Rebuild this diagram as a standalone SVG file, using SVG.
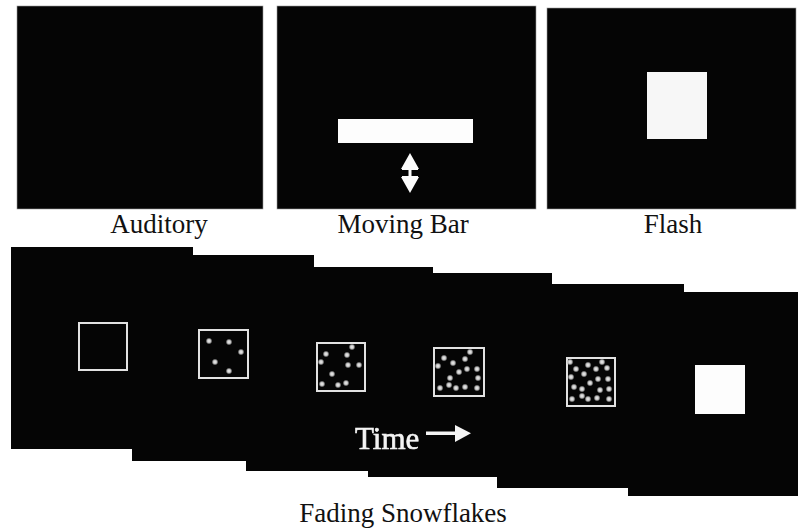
<svg xmlns="http://www.w3.org/2000/svg" width="798" height="529" viewBox="0 0 798 529">
  <style>
    .screen { fill: #050505; stroke: #9a9a9a; stroke-width: 0.6; }
    .frame { fill: #050505; }
    .label { font-family: "Liberation Serif", "Times New Roman", serif; font-size: 27px; fill: #111; text-anchor: middle; }
    .box { fill: none; stroke: #e2e2e2; stroke-width: 2; }
    .flake { fill: url(#flakeGlow); }
    .solid { fill: #fdfdfd; }
  </style>
  <defs>
    <radialGradient id="flakeGlow">
      <stop offset="0" stop-color="#f4f4f4" stop-opacity="1"/>
      <stop offset="0.55" stop-color="#cfcfcf" stop-opacity="0.9"/>
      <stop offset="1" stop-color="#888" stop-opacity="0"/>
    </radialGradient>
    <filter id="soft" x="-10%" y="-20%" width="120%" height="140%">
      <feGaussianBlur stdDeviation="0.5"/>
    </filter>
  </defs>

  <rect width="798" height="529" fill="#ffffff"/>

  <!-- Auditory condition: blank screen -->
  <g id="auditory">
    <rect class="screen" x="17" y="6" width="246" height="203"/>
    <text class="label" x="159" y="233">Auditory</text>
  </g>

  <!-- Moving bar condition -->
  <g id="moving-bar">
    <rect class="screen" x="277" y="6" width="259" height="203"/>
    <rect class="solid" x="338" y="119" width="135" height="24"/>
    <g fill="#fdfdfd">
      <polygon points="410,153 419,169 401,169"/>
      <rect x="408.5" y="169" width="3" height="9"/>
      <rect x="402" y="169" width="16" height="1"/>
      <rect x="402" y="176" width="16" height="1"/>
      <polygon points="401,177 419,177 410,193"/>
    </g>
    <text class="label" x="403" y="233">Moving Bar</text>
  </g>

  <!-- Flash condition -->
  <g id="flash">
    <rect class="screen" x="547" y="8" width="249" height="201"/>
    <rect x="647" y="72" width="60" height="67" fill="#f7f7f7"/>
    <text class="label" x="673" y="233">Flash</text>
  </g>

  <!-- Fading snowflakes: staggered frames, later frames drawn first so each earlier one sits on top -->
  <g id="frame-6">
    <rect class="frame" x="628" y="292" width="170" height="204"/>
    <rect class="solid" x="695" y="365" width="50" height="49"/>
  </g>
  <g id="frame-5">
    <rect class="frame" x="497" y="284" width="187" height="204"/>
    <rect class="box" x="567" y="358" width="48" height="48"/>
    <circle class="flake" cx="570" cy="362" r="3.6"/>
    <circle class="flake" cx="602" cy="362" r="3.6"/>
    <circle class="flake" cx="576" cy="369" r="3.6"/>
    <circle class="flake" cx="588" cy="365" r="3.6"/>
    <circle class="flake" cx="596" cy="369" r="3.6"/>
    <circle class="flake" cx="607" cy="368" r="3.6"/>
    <circle class="flake" cx="571" cy="377" r="3.6"/>
    <circle class="flake" cx="584" cy="374" r="3.6"/>
    <circle class="flake" cx="598" cy="379" r="3.6"/>
    <circle class="flake" cx="608" cy="379" r="3.6"/>
    <circle class="flake" cx="590" cy="383" r="3.6"/>
    <circle class="flake" cx="574" cy="387" r="3.6"/>
    <circle class="flake" cx="582" cy="389" r="3.6"/>
    <circle class="flake" cx="600" cy="390" r="3.6"/>
    <circle class="flake" cx="609" cy="389" r="3.6"/>
    <circle class="flake" cx="582" cy="396" r="3.6"/>
    <circle class="flake" cx="572" cy="399" r="3.6"/>
    <circle class="flake" cx="588" cy="399" r="3.6"/>
    <circle class="flake" cx="597" cy="398" r="3.6"/>
    <circle class="flake" cx="609" cy="399" r="3.6"/>
  </g>
  <g id="frame-4">
    <rect class="frame" x="368" y="273" width="184" height="204"/>
    <rect class="box" x="434" y="348" width="50" height="48"/>
    <circle class="flake" cx="470" cy="352" r="3.6"/>
    <circle class="flake" cx="444" cy="358" r="3.6"/>
    <circle class="flake" cx="465" cy="359" r="3.6"/>
    <circle class="flake" cx="453" cy="363" r="3.6"/>
    <circle class="flake" cx="438" cy="366" r="3.6"/>
    <circle class="flake" cx="467" cy="369" r="3.6"/>
    <circle class="flake" cx="477" cy="369" r="3.6"/>
    <circle class="flake" cx="459" cy="372" r="3.6"/>
    <circle class="flake" cx="450" cy="378" r="3.6"/>
    <circle class="flake" cx="478" cy="378" r="3.6"/>
    <circle class="flake" cx="449" cy="385" r="3.6"/>
    <circle class="flake" cx="440" cy="388" r="3.6"/>
    <circle class="flake" cx="456" cy="388" r="3.6"/>
    <circle class="flake" cx="465" cy="387" r="3.6"/>
    <circle class="flake" cx="477" cy="388" r="3.6"/>
  </g>
  <g id="frame-3">
    <rect class="frame" x="246" y="267" width="187" height="204"/>
    <rect class="box" x="317" y="343" width="48" height="48"/>
    <circle class="flake" cx="352" cy="347" r="3.5"/>
    <circle class="flake" cx="326" cy="354" r="3.5"/>
    <circle class="flake" cx="347" cy="355" r="3.5"/>
    <circle class="flake" cx="321" cy="362" r="3.5"/>
    <circle class="flake" cx="348" cy="365" r="3.5"/>
    <circle class="flake" cx="359" cy="365" r="3.5"/>
    <circle class="flake" cx="332" cy="374" r="3.5"/>
    <circle class="flake" cx="322" cy="384" r="3.5"/>
    <circle class="flake" cx="338" cy="385" r="3.5"/>
    <circle class="flake" cx="346" cy="383" r="3.5"/>
  </g>
  <g id="frame-2">
    <rect class="frame" x="132" y="255" width="182" height="206"/>
    <rect class="box" x="199" y="330" width="49" height="48"/>
    <circle class="flake" cx="209" cy="341" r="3.5"/>
    <circle class="flake" cx="229" cy="342" r="3.5"/>
    <circle class="flake" cx="241" cy="352" r="3.5"/>
    <circle class="flake" cx="215" cy="362" r="3.5"/>
    <circle class="flake" cx="229" cy="371" r="3.5"/>
  </g>
  <g id="frame-1">
    <rect class="frame" x="11" y="247" width="182" height="202"/>
    <rect class="box" x="79" y="323" width="48" height="47"/>
  </g>

  <!-- Time direction marker -->
  <g id="time-arrow" filter="url(#soft)" fill="#f4f4f4">
    <text x="355" y="449" font-family="Liberation Serif, Times New Roman, serif" font-size="31" stroke="#f4f4f4" stroke-width="0.6">Time</text>
    <rect x="426" y="431.5" width="30" height="3.5"/>
    <polygon points="455,425 471,433.3 455,442"/>
  </g>

  <g id="caption">
    <text class="label" x="403" y="522">Fading Snowflakes</text>
  </g>
</svg>
